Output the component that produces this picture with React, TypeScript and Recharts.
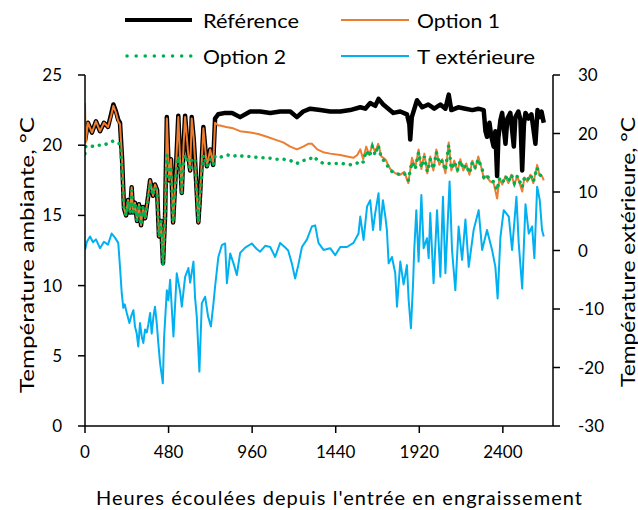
import React from 'react';
import { ComposedChart, Line, XAxis, YAxis } from 'recharts';

// ---- axis ticks ----
const xTicks = [0, 480, 960, 1440, 1920, 2400];
const leftTicks = [0, 5, 10, 15, 20, 25];
const rightTicks = [-30, -20, -10, 0, 10, 20, 30];

// ---- series: [hours, °C] ----
const reference: [number, number][] = [
  [0, 20.3], [17, 21.6], [40, 20.9], [63, 21.7], [86, 21.0], [109, 21.6], [132, 21.3], [150, 22.2], [163, 22.9], [178, 22.4],
  [191, 21.8], [201, 21.6], [213, 19.0], [224, 15.5], [236, 15.0], [247, 16.1], [259, 15.2], [268, 17.0], [276, 15.2], [287, 15.9],
  [299, 14.6], [310, 15.8], [322, 14.3], [333, 15.6], [345, 14.8], [362, 16.3], [374, 17.5], [391, 16.4], [402, 17.2], [414, 16.8],
  [425, 13.5], [437, 14.6], [448, 11.6], [460, 15.0], [470, 22.0], [483, 17.5], [494, 19.0], [506, 14.5], [523, 18.5], [536, 22.1],
  [546, 19.0], [556, 16.6], [566, 20.0], [575, 22.1], [592, 19.5], [604, 18.2], [613, 22.0], [624, 20.5], [632, 18.9], [651, 14.5],
  [661, 16.5], [680, 21.3], [700, 18.5], [719, 19.7], [736, 18.6], [747, 21.9], [765, 22.2], [805, 22.3], [845, 22.3], [891, 22.0],
  [949, 22.4], [1006, 22.4], [1064, 22.3], [1121, 22.4], [1179, 22.4], [1217, 22.0], [1253, 22.4], [1294, 22.6], [1351, 22.5], [1408, 22.4],
  [1466, 22.4], [1523, 22.5], [1581, 22.7], [1610, 22.6], [1638, 23.0], [1667, 22.8], [1686, 23.3], [1713, 22.9], [1742, 22.6], [1771, 22.3],
  [1811, 22.4], [1849, 22.2], [1863, 21.5], [1868, 20.4], [1877, 22.0], [1907, 23.2], [1937, 22.7], [1972, 22.9], [2006, 22.6], [2041, 22.9],
  [2070, 22.6], [2089, 23.6], [2104, 22.5], [2144, 22.7], [2185, 22.6], [2225, 22.5], [2259, 22.6], [2290, 22.5], [2300, 21.0], [2309, 20.6],
  [2323, 21.6], [2334, 20.6], [2347, 19.9], [2357, 21.0], [2367, 17.8], [2374, 20.5], [2386, 21.8], [2396, 22.3], [2403, 21.5], [2415, 20.1],
  [2426, 21.9], [2443, 22.3], [2463, 19.9], [2472, 22.0], [2489, 22.4], [2501, 21.8], [2511, 18.2], [2521, 21.5], [2530, 22.3], [2547, 21.9],
  [2564, 22.2], [2587, 20.1], [2599, 22.5], [2610, 22.0], [2622, 22.4], [2635, 21.6],
];

const option1: [number, number][] = [
  [0, 23.0], [4, 20.2], [17, 21.6], [40, 20.9], [63, 21.7], [86, 21.0], [109, 21.6], [132, 21.3], [150, 22.1], [163, 22.8], [178, 22.3],
  [191, 21.7], [201, 21.5], [213, 19.0], [224, 15.5], [236, 15.0], [247, 16.1], [259, 15.2], [268, 17.0], [276, 15.2], [287, 15.9],
  [299, 14.6], [310, 15.8], [322, 14.3], [333, 15.6], [345, 14.8], [362, 16.3], [374, 17.5], [391, 16.4], [402, 17.2], [414, 16.8],
  [425, 13.5], [437, 14.6], [448, 11.6], [460, 15.0], [470, 21.9], [483, 17.5], [494, 19.0], [506, 14.5], [523, 18.5], [536, 22.0],
  [546, 19.0], [556, 16.6], [566, 20.0], [575, 22.0], [592, 19.5], [604, 18.2], [613, 21.9], [624, 20.5], [632, 18.9], [651, 14.5],
  [661, 16.5], [680, 21.2], [700, 18.5], [719, 19.7], [736, 18.6], [747, 21.6], [765, 21.4], [776, 21.4], [811, 21.3], [851, 21.2],
  [891, 21.0], [949, 20.9], [995, 20.8], [1045, 20.6], [1092, 20.4], [1138, 20.2], [1179, 19.9], [1217, 19.7], [1253, 19.9], [1282, 20.1],
  [1303, 20.1], [1334, 19.7], [1368, 19.5], [1408, 19.4], [1466, 19.3], [1506, 19.2], [1541, 19.1], [1564, 19.3], [1581, 19.7], [1598, 19.0],
  [1615, 19.9], [1633, 19.3], [1650, 20.0], [1667, 19.5], [1684, 20.1], [1702, 19.2], [1725, 19.0], [1753, 18.3], [1782, 18.0], [1811, 17.9],
  [1834, 18.1], [1857, 17.3], [1878, 19.1], [1897, 18.4], [1916, 19.7], [1932, 18.3], [1949, 19.4], [1966, 18.0], [1983, 19.2], [2001, 18.2],
  [2018, 19.7], [2035, 18.6], [2052, 19.0], [2070, 18.0], [2089, 20.2], [2104, 18.2], [2121, 18.9], [2139, 18.1], [2156, 19.0], [2173, 18.2],
  [2190, 18.7], [2208, 17.9], [2225, 18.9], [2242, 18.3], [2259, 19.2], [2281, 18.2], [2290, 17.6], [2305, 17.8], [2328, 17.4], [2347, 17.3],
  [2367, 16.2], [2380, 17.6], [2397, 17.2], [2415, 17.8], [2432, 17.3], [2449, 17.9], [2466, 17.2], [2483, 17.8], [2501, 17.1], [2511, 16.7],
  [2524, 17.7], [2541, 17.4], [2558, 17.9], [2575, 17.3], [2597, 18.6], [2610, 17.9], [2625, 17.8], [2635, 17.5],
];

const option2: [number, number][] = [
  [0, 19.4], [4, 19.9], [20, 20.0], [50, 19.9], [80, 20.0], [110, 20.0], [140, 20.2], [163, 20.3], [180, 20.2], [198, 20.1],
  [206, 19.6], [213, 18.0], [224, 15.5], [236, 15.0], [247, 16.0], [259, 15.2], [268, 16.8], [276, 15.2], [287, 15.9], [299, 14.6],
  [310, 15.8], [322, 14.3], [333, 15.6], [345, 14.8], [362, 16.3], [374, 17.3], [391, 16.4], [402, 17.0], [414, 16.6], [425, 13.5],
  [437, 14.6], [448, 11.4], [460, 15.0], [470, 19.3], [483, 17.5], [494, 18.5], [506, 14.5], [523, 18.0], [536, 19.2], [546, 18.5],
  [556, 16.6], [566, 18.8], [575, 19.3], [592, 18.8], [604, 18.2], [613, 19.1], [624, 19.0], [632, 18.9], [651, 14.5], [661, 16.5],
  [680, 19.3], [700, 18.5], [719, 19.0], [736, 18.6], [747, 19.2], [765, 19.1], [790, 19.2], [820, 19.3], [850, 19.2], [880, 19.3],
  [910, 19.2], [950, 19.2], [1000, 19.1], [1050, 19.1], [1100, 19.0], [1140, 19.0], [1180, 18.9], [1217, 18.7], [1250, 18.9], [1290, 19.0],
  [1310, 19.2], [1330, 19.0], [1368, 18.7], [1410, 18.7], [1470, 18.7], [1520, 18.6], [1560, 18.7], [1581, 18.9], [1598, 18.8], [1615, 19.6],
  [1633, 19.2], [1650, 19.9], [1667, 19.3], [1684, 20.0], [1702, 19.1], [1725, 18.8], [1753, 18.2], [1782, 18.0], [1811, 17.9], [1834, 18.0],
  [1857, 17.5], [1878, 18.8], [1897, 18.3], [1916, 19.5], [1932, 18.4], [1949, 19.2], [1966, 18.1], [1983, 19.0], [2001, 18.3], [2018, 19.5],
  [2035, 18.7], [2052, 18.9], [2070, 18.2], [2089, 20.0], [2104, 18.3], [2121, 18.8], [2139, 18.2], [2156, 18.9], [2173, 18.3], [2190, 18.6],
  [2208, 18.0], [2225, 18.8], [2242, 18.4], [2259, 19.0], [2281, 18.3], [2290, 17.7], [2305, 17.9], [2328, 17.5], [2347, 17.4], [2367, 16.8],
  [2380, 17.6], [2397, 17.3], [2415, 17.8], [2432, 17.4], [2449, 17.9], [2466, 17.3], [2483, 17.8], [2501, 17.3], [2511, 17.0], [2524, 17.7],
  [2541, 17.5], [2558, 17.9], [2575, 17.4], [2597, 18.4], [2610, 17.9], [2625, 17.8], [2635, 17.6],
];

const exterior: [number, number][] = [
  [0, 0.1], [11, 1.5], [29, 2.4], [46, 1.4], [63, 1.9], [86, 0.4], [109, 1.5], [132, 1.0], [153, 2.9], [172, 2.2],
  [191, 1.3], [201, -2.8], [211, -7.3], [220, -9.8], [228, -9.2], [240, -10.7], [255, -12.4], [268, -11.0], [278, -10.2], [287, -13.0],
  [297, -14.2], [306, -16.4], [316, -12.4], [326, -14.7], [335, -15.8], [345, -13.5], [355, -14.0], [364, -12.6], [374, -10.7], [383, -14.2],
  [393, -11.3], [402, -9.6], [412, -12.4], [421, -15.8], [431, -19.2], [447, -22.7], [454, -15.0], [470, -6.8],
  [479, -8.5], [489, -5.0], [508, -14.7], [527, -3.9], [546, -7.0], [556, -9.6], [575, -4.5], [594, -3.0], [604, -5.5], [623, -1.9],
  [632, -8.0], [642, -11.3], [657, -20.7], [671, -9.0], [690, -7.9], [707, -11.3], [723, -13.0], [738, -9.0], [747, -6.2], [766, -1.1],
  [786, 0.9], [805, 1.2], [815, -5.6], [834, -0.5], [853, -2.2], [872, -4.2], [891, -0.4], [920, 0.5], [958, 1.2], [985, 0.3],
  [1006, -0.2], [1035, 0.8], [1064, 0.6], [1092, -1.1], [1121, 1.3], [1150, 0.5], [1167, 0.0], [1188, -2.2], [1207, -4.8], [1225, -2.5],
  [1246, 0.6], [1275, 1.9], [1303, 4.1], [1322, 4.3], [1341, 1.3], [1370, 0.1], [1408, 0.4], [1437, -0.8], [1466, 0.6], [1505, 0.6],
  [1542, 1.3], [1571, 2.9], [1581, 5.8], [1600, 1.8], [1620, 7.5], [1638, 8.6], [1654, 3.5], [1667, 6.4], [1686, 9.8], [1696, 3.5],
  [1711, 8.6], [1725, 5.8], [1734, 3.5], [1744, -2.2], [1763, -1.1], [1782, -3.9], [1792, -9.6], [1811, -1.9], [1830, -5.8], [1849, -2.5],
  [1859, -8.5], [1872, -13.3], [1884, -5.8], [1891, 0.1], [1903, 6.9], [1916, -1.9], [1932, 9.5], [1945, 0.4], [1964, 2.1], [1974, -1.3],
  [1983, 6.4], [2002, -5.6], [2022, 6.9], [2041, -4.5], [2056, 9.2], [2070, -3.9], [2094, 11.8], [2108, 0.1], [2127, -6.8], [2146, 4.1],
  [2166, -1.6], [2185, 5.3], [2204, -2.8], [2232, 3.5], [2261, 6.9], [2281, 0.1], [2309, 3.5], [2338, 0.1], [2357, -2.8], [2370, -8.2],
  [2386, 2.3], [2405, 6.9], [2434, 5.8], [2453, 0.1], [2478, 9.2], [2491, 1.3], [2511, -6.5], [2530, 7.9], [2549, 2.9], [2568, 4.1],
  [2581, -1.3], [2597, 10.9], [2612, 8.6], [2625, 3.5], [2635, 2.4],
];

const legendLabels = ['Référence', 'Option 1', 'Option 2', 'T extérieure'];
const xTitle = "Heures écoulées depuis l'entrée en engraissement";
const leftTitle = 'Température ambiante, °C';
const rightTitle = 'Température extérieure, °C';

const rows = (pts: [number, number][]) => pts.map(([h, t]) => ({ h, t }));

const FONT = 'Lato, "Open Sans", sans-serif';
const C_REF = '#000000';
const C_OPT1 = '#ED7D31';
const C_OPT2 = '#00B050';
const C_EXT = '#00B0F0';

const W = 638;
const H = 510;

export default function App() {
  const tickStyle = { fill: '#000', fontSize: 17, fontFamily: FONT };
  const axisLine = { stroke: '#000', strokeWidth: 1.5 };
  return (
    <div style={{ position: 'absolute', left: 0, top: 0, width: W, height: H, fontFamily: FONT, overflow: 'hidden', background: '#fff' }}>
      <ComposedChart width={W} height={H} margin={{ top: 75, right: 0, bottom: 34, left: 8 }}>
        <XAxis
          dataKey="h"
          type="number"
          domain={[0, 2688]}
          ticks={xTicks}
          interval={0}
          allowDataOverflow
          height={50}
          tickSize={7}
          tickMargin={13}
          tick={tickStyle}
          axisLine={axisLine}
          tickLine={axisLine}
        />
        <YAxis
          yAxisId="left"
          domain={[0, 25]}
          ticks={leftTicks}
          interval={0}
          width={77}
          tickSize={7}
          tickMargin={16}
          tick={tickStyle}
          axisLine={axisLine}
          tickLine={axisLine}
        />
        <YAxis
          yAxisId="right"
          orientation="right"
          domain={[-30, 30]}
          ticks={rightTicks}
          interval={0}
          width={85}
          tickSize={7}
          tickMargin={18}
          tick={tickStyle}
          axisLine={axisLine}
          tickLine={axisLine}
        />
        <Line yAxisId="left" data={rows(reference)} dataKey="t" type="linear" stroke={C_REF} strokeWidth={4.5} dot={false} isAnimationActive={false} strokeLinejoin="round" />
        <Line yAxisId="left" data={rows(option1)} dataKey="t" type="linear" stroke={C_OPT1} strokeWidth={2} dot={false} isAnimationActive={false} strokeLinejoin="round" />
        <Line yAxisId="left" data={rows(option2)} dataKey="t" type="linear" stroke={C_OPT2} strokeWidth={3.5} strokeDasharray="0.1 7" strokeLinecap="round" dot={false} isAnimationActive={false} />
        <Line yAxisId="right" data={rows(exterior)} dataKey="t" type="linear" stroke={C_EXT} strokeWidth={2} dot={false} isAnimationActive={false} strokeLinejoin="round" />
      </ComposedChart>
      <svg width={W} height={H} style={{ position: 'absolute', left: 0, top: 0, pointerEvents: 'none' }} fontFamily={FONT}>
        {/* legend */}
        <line x1={125} x2={192} y1={20} y2={20} stroke={C_REF} strokeWidth={4} />
        <text x={203} y={20} dominantBaseline="central" fontSize={19} fill="#000" textLength={96} lengthAdjust="spacingAndGlyphs">{legendLabels[0]}</text>
        <line x1={341} x2={409} y1={20} y2={20} stroke={C_OPT1} strokeWidth={2} />
        <text x={417} y={20} dominantBaseline="central" fontSize={19} fill="#000" textLength={83} lengthAdjust="spacingAndGlyphs">{legendLabels[1]}</text>
        <line x1={127} x2={192} y1={56} y2={56} stroke={C_OPT2} strokeWidth={3.5} strokeDasharray="0.1 9" strokeLinecap="round" />
        <text x={203} y={56} dominantBaseline="central" fontSize={19} fill="#000" textLength={83} lengthAdjust="spacingAndGlyphs">{legendLabels[2]}</text>
        <line x1={341} x2={409} y1={56} y2={56} stroke={C_EXT} strokeWidth={2} />
        <text x={417} y={56} dominantBaseline="central" fontSize={19} fill="#000" textLength={118} lengthAdjust="spacingAndGlyphs">{legendLabels[3]}</text>
        {/* axis titles */}
        <text x={26} y={255} transform="rotate(-90 26 255)" textAnchor="middle" dominantBaseline="central" fontSize={20} fill="#000" textLength={276} lengthAdjust="spacingAndGlyphs">{leftTitle}</text>
        <text x={627} y={252} transform="rotate(-90 627 252)" textAnchor="middle" dominantBaseline="central" fontSize={20} fill="#000" textLength={270} lengthAdjust="spacingAndGlyphs">{rightTitle}</text>
        <text x={339} y={497} textAnchor="middle" dominantBaseline="central" fontSize={20} fill="#000" textLength={486} lengthAdjust="spacing">{xTitle}</text>
      </svg>
    </div>
  );
}
